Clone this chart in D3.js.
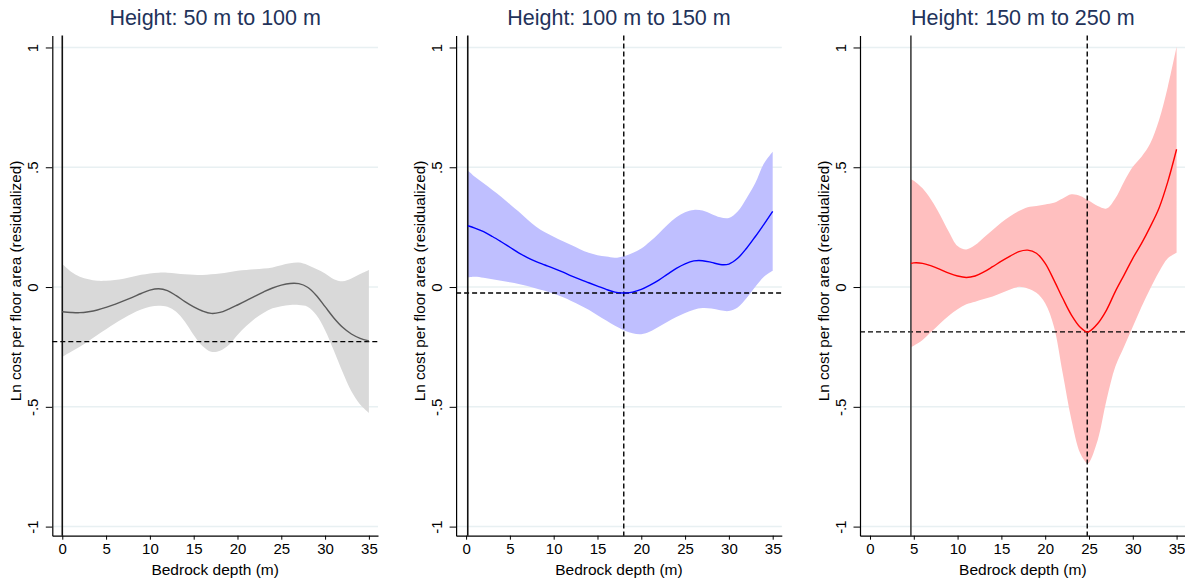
<!DOCTYPE html>
<html><head><meta charset="utf-8">
<script src="https://cdn.jsdelivr.net/npm/d3@7"></script>
<style>
html,body{margin:0;padding:0;background:#fff;}
svg{display:block;font-family:"Liberation Sans",Arial,sans-serif;}
</style></head>
<body>
<svg id="chart" width="1185" height="579"></svg>
<script>
// ---------- data ----------
const panelTitles = ["Height: 50 m to 100 m", "Height: 100 m to 150 m", "Height: 150 m to 250 m"];
const xTicks = [0, 5, 10, 15, 20, 25, 30, 35];
const yTicks = [-1, -0.5, 0, 0.5, 1];
const yTickLabels = ["-1", "-.5", "0", ".5", "1"];
const xTitle = "Bedrock depth (m)";
const yTitle = "Ln cost per floor area (residualized)";

// panel 1: 50-100 m
const depth1 = [0,1,2,3,4,5,6,7,8,9,10,11,12,13,14,15,16,17,18,19,20,21,22,23,24,25,26,27,28,29,30,31,32,33,34,35];
const fit1 = [-0.103,-0.106,-0.107,-0.103,-0.096,-0.085,-0.072,-0.058,-0.043,-0.027,-0.013,-0.007,-0.015,-0.036,-0.061,-0.083,-0.100,-0.110,-0.106,-0.092,-0.075,-0.057,-0.038,-0.020,-0.004,0.008,0.015,0.014,-0.001,-0.035,-0.082,-0.129,-0.168,-0.196,-0.214,-0.225];
const upper1 = [0.096,0.064,0.043,0.032,0.026,0.026,0.029,0.035,0.043,0.051,0.057,0.060,0.060,0.057,0.053,0.051,0.050,0.053,0.057,0.062,0.068,0.071,0.074,0.077,0.082,0.091,0.099,0.102,0.092,0.075,0.057,0.033,0.024,0.036,0.054,0.071];
const lower1 = [-0.291,-0.270,-0.249,-0.225,-0.200,-0.176,-0.152,-0.130,-0.110,-0.094,-0.082,-0.078,-0.082,-0.103,-0.145,-0.200,-0.246,-0.270,-0.266,-0.242,-0.200,-0.163,-0.131,-0.107,-0.089,-0.080,-0.075,-0.075,-0.082,-0.117,-0.180,-0.265,-0.355,-0.435,-0.490,-0.525];
const minDepth1 = 0, refX1 = null, refY1 = -0.228;

// panel 2: 100-150 m
const depth2 = [0.2,1,2,3,4,5,6,7,8,9,10,11,12,13,14,15,16,17,18,19,20,21,22,23,24,25,26,27,28,29,30,31,32,33,34,35];
const fit2 = [0.256,0.246,0.231,0.211,0.189,0.166,0.143,0.123,0.106,0.092,0.078,0.063,0.047,0.032,0.018,0.004,-0.010,-0.021,-0.025,-0.021,-0.010,0.008,0.029,0.054,0.078,0.097,0.109,0.110,0.103,0.094,0.096,0.120,0.161,0.210,0.262,0.316];
const upper2 = [0.486,0.460,0.433,0.405,0.377,0.346,0.315,0.282,0.252,0.229,0.210,0.192,0.175,0.158,0.143,0.133,0.127,0.122,0.129,0.142,0.161,0.190,0.224,0.260,0.291,0.312,0.322,0.319,0.305,0.291,0.288,0.315,0.370,0.433,0.516,0.565];
const lower2 = [0.040,0.043,0.039,0.033,0.026,0.020,0.013,0.004,-0.006,-0.016,-0.028,-0.042,-0.058,-0.076,-0.095,-0.118,-0.140,-0.162,-0.180,-0.193,-0.197,-0.186,-0.166,-0.145,-0.125,-0.108,-0.095,-0.088,-0.090,-0.097,-0.100,-0.085,-0.047,0.000,0.043,0.068];
const minDepth2 = 0.19, refX2 = 18, refY2 = -0.025;

// panel 3: 150-250 m
const depth3 = [4.67,5,6,7,8,9,10,11,12,13,14,15,16,17,18,19,20,21,22,23,24,24.8,25,26,27,28,29,30,31,32,33,34,35];
const fit3 = [0.099,0.101,0.099,0.088,0.074,0.058,0.046,0.040,0.046,0.063,0.085,0.108,0.129,0.148,0.154,0.141,0.099,0.029,-0.047,-0.117,-0.168,-0.188,-0.186,-0.152,-0.096,-0.019,0.050,0.120,0.182,0.252,0.330,0.440,0.575];
const upper3 = [0.450,0.444,0.412,0.363,0.301,0.231,0.171,0.157,0.175,0.207,0.238,0.269,0.296,0.317,0.333,0.338,0.345,0.352,0.370,0.387,0.380,0.364,0.360,0.338,0.328,0.370,0.440,0.502,0.544,0.600,0.697,0.836,1.003];
const lower3 = [-0.252,-0.245,-0.221,-0.187,-0.152,-0.120,-0.093,-0.072,-0.061,-0.050,-0.040,-0.025,-0.010,0.001,-0.006,-0.024,-0.068,-0.166,-0.360,-0.555,-0.694,-0.736,-0.733,-0.639,-0.472,-0.333,-0.249,-0.166,-0.082,-0.006,0.064,0.120,0.143];
const minDepth3 = 4.67, refX3 = 24.8, refY3 = -0.187;

const bandColors = ["#d9d9d9", "#bfbfff", "#ffbfbf"];
const lineColors = ["#5a5a5a", "#0000ff", "#ff0000"];

// ---------- layout ----------
const panels = [
  {title: panelTitles[0], depth: depth1, fit: fit1, upper: upper1, lower: lower1, minDepth: minDepth1, refX: refX1, refY: refY1},
  {title: panelTitles[1], depth: depth2, fit: fit2, upper: upper2, lower: lower2, minDepth: minDepth2, refX: refX2, refY: refY2},
  {title: panelTitles[2], depth: depth3, fit: fit3, upper: upper3, lower: lower3, minDepth: minDepth3, refX: refX3, refY: refY3}
];
const panelLeft = [52.3, 456.1, 860];
const plotW = 325.7, plotTop = 35.5, plotBottom = 535.7;

const svg = d3.select("#chart");
const y = d3.scaleLinear().domain([-1.038, 1.05]).range([plotBottom, plotTop]);

panels.forEach((p, i) => {
  const L = panelLeft[i];
  const x = d3.scaleLinear().domain([-1.14, 36.04]).range([L, L + plotW]);
  const g = svg.append("g");

  // gridlines
  g.selectAll("line.grid").data(yTicks).join("line")
    .attr("x1", L).attr("x2", L + plotW)
    .attr("y1", d => y(d)).attr("y2", d => y(d))
    .attr("stroke", "#e8f0f2").attr("stroke-width", 1.5);

  const data = p.depth.map((d, k) => ({d, f: p.fit[k], lo: p.lower[k], hi: p.upper[k]}));

  // band
  g.append("path").datum(data)
    .attr("d", d3.area().x(e => x(e.d)).y0(e => y(e.lo)).y1(e => y(e.hi)).curve(d3.curveCatmullRom.alpha(0.5)))
    .attr("fill", bandColors[i]).attr("stroke", "none");

  // horizontal reference dashed
  g.append("line")
    .attr("x1", L).attr("x2", L + plotW)
    .attr("y1", y(p.refY)).attr("y2", y(p.refY))
    .attr("stroke", "#000").attr("stroke-width", 1.4).attr("stroke-dasharray", "5,3");

  // vertical reference dashed
  if (p.refX !== null) {
    g.append("line")
      .attr("x1", x(p.refX)).attr("x2", x(p.refX))
      .attr("y1", plotTop).attr("y2", plotBottom)
      .attr("stroke", "#000").attr("stroke-width", 1.4).attr("stroke-dasharray", "5,3");
  }

  // solid vertical at minimum depth
  g.append("line")
    .attr("x1", x(p.minDepth)).attr("x2", x(p.minDepth))
    .attr("y1", plotTop).attr("y2", plotBottom)
    .attr("stroke", i === 2 ? "#404040" : "#111").attr("stroke-width", 1.6);

  // fit line
  g.append("path").datum(data)
    .attr("d", d3.line().x(e => x(e.d)).y(e => y(e.f)).curve(d3.curveCatmullRom.alpha(0.5)))
    .attr("fill", "none").attr("stroke", lineColors[i]).attr("stroke-width", 1.4);

  // x axis
  const xAxis = g.append("g").attr("transform", `translate(0,${plotBottom})`)
    .call(d3.axisBottom(x).tickValues(xTicks).tickSize(4).tickSizeOuter(0).tickPadding(4));
  xAxis.select(".domain").attr("stroke", "#000").attr("stroke-width", 1.2);
  xAxis.selectAll("text").attr("font-size", "15px").attr("fill", "#000")
    .attr("font-family", "Liberation Sans, Arial, sans-serif");

  // y axis
  const yAxis = g.append("g").attr("transform", `translate(${L},0)`)
    .call(d3.axisLeft(y).tickValues(yTicks).tickSize(6.5).tickSizeOuter(0)
      .tickFormat((d, k) => yTickLabels[k]));
  yAxis.select(".domain").attr("stroke", "#000").attr("stroke-width", 1.2);
  yAxis.selectAll(".tick text")
    .attr("x", null).attr("dy", null)
    .attr("transform", "translate(-14.5,0) rotate(-90)")
    .attr("text-anchor", "middle")
    .attr("font-size", "15px").attr("fill", "#000")
    .attr("font-family", "Liberation Sans, Arial, sans-serif");

  // titles
  g.append("text").attr("x", L + plotW / 2).attr("y", 25)
    .attr("text-anchor", "middle").attr("font-size", "21.5px").attr("fill", "#22325a")
    .text(p.title);
  g.append("text").attr("x", L + plotW / 2).attr("y", 575)
    .attr("text-anchor", "middle").attr("font-size", "15.5px").attr("fill", "#000")
    .text(xTitle);
  g.append("text")
    .attr("transform", `translate(${L - 31},281) rotate(-90)`)
    .attr("text-anchor", "middle").attr("font-size", "15.3px").attr("fill", "#000")
    .text(yTitle);
});
</script>
</body></html>
